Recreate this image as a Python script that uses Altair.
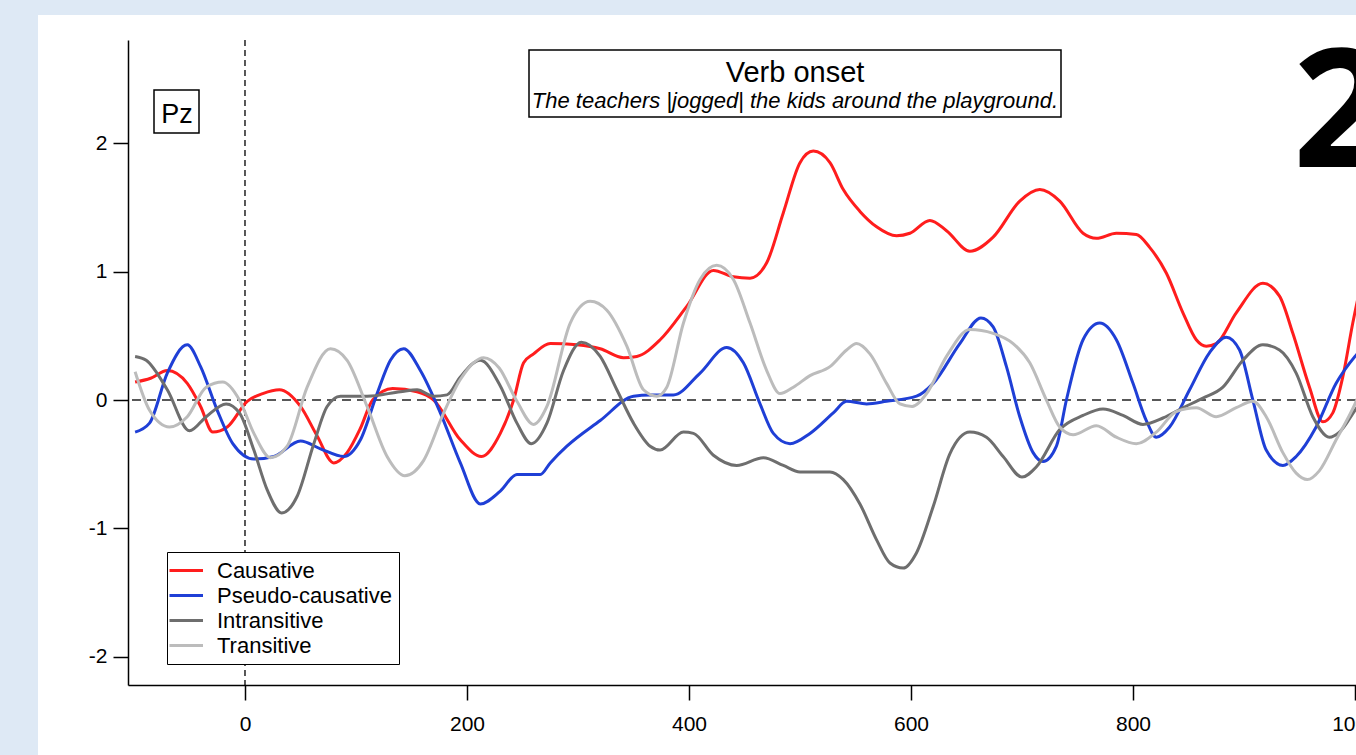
import altair as alt
import pandas as pd

SERIES = ["Causative", "Pseudo-causative", "Intransitive", "Transitive"]
COLORS = ["#ff1d1d", "#1f3fd6", "#6e6e6e", "#bcbcbc"]

X_TICKS = [0, 200, 400, 600, 800, 1000]
Y_TICKS = [-2, -1, 0, 1, 2]

caus_t = [-99, -85, -70, -52, -40, -29, -16, 2, 16, 31, 50, 65, 80, 92, 104, 115, 133, 155, 170,
          194, 213, 230, 242, 251, 260, 275, 299, 320, 341, 353, 374, 398, 422, 440, 455, 470, 485,
          500, 512, 527, 539, 554, 569, 587, 599, 617, 632, 653, 674, 698, 716, 734, 755, 767, 785,
          803, 815, 830, 845, 857, 866, 875, 893, 917, 932, 944, 959, 971, 980, 989, 998, 1004]
caus_v = [0.14, 0.17, 0.23, 0.13, -0.05, -0.25, -0.21, -0.01, 0.05, 0.08, -0.05, -0.28, -0.49, -0.41,
          -0.22, 0.0, 0.09, 0.065, 0.0, -0.31, -0.44, -0.26, 0.0, 0.29, 0.36, 0.44, 0.43, 0.40, 0.33,
          0.34, 0.47, 0.73, 1.01, 0.96, 0.95, 1.07, 1.46, 1.85, 1.94, 1.85, 1.64, 1.47, 1.35, 1.28,
          1.30, 1.40, 1.32, 1.16, 1.27, 1.55, 1.64, 1.55, 1.30, 1.26, 1.30, 1.29, 1.19, 0.99, 0.68,
          0.47, 0.42, 0.44, 0.68, 0.91, 0.81, 0.52, 0.10, -0.17, -0.10, 0.18, 0.60, 0.85]

pseudo_t = [-99, -86, -70, -52, -40, -25, -11, 8, 26, 50, 68, 89, 104, 119, 131, 143, 158, 176, 194,
            212, 230, 245, 266, 275, 290, 320, 350, 365, 386, 410, 434, 449, 464, 476, 491, 509, 530,
            542, 560, 578, 605, 620, 644, 663, 674, 686, 698, 710, 719, 731, 740, 755, 770, 785, 800,
            812, 821, 833, 851, 869, 884, 896, 908, 920, 935, 947, 965, 983, 1000, 1004]
pseudo_v = [-0.25, -0.18, 0.21, 0.43, 0.26, -0.08, -0.34, -0.46, -0.44, -0.32, -0.38, -0.44, -0.31,
            0.05, 0.31, 0.40, 0.23, -0.10, -0.49, -0.81, -0.71, -0.58, -0.58, -0.49, -0.36, -0.16,
            0.03, 0.04, 0.04, 0.21, 0.41, 0.29, -0.03, -0.26, -0.34, -0.26, -0.10, -0.01, -0.03,
            -0.01, 0.03, 0.13, 0.44, 0.64, 0.57, 0.26, -0.13, -0.41, -0.48, -0.36, 0.0, 0.47, 0.60,
            0.47, 0.13, -0.16, -0.29, -0.21, 0.08, 0.37, 0.49, 0.39, 0.0, -0.39, -0.51, -0.44, -0.21,
            0.13, 0.34, 0.38]

intr_t = [-99, -89, -70, -50, -35, -17, -5, 8, 20, 33, 47, 62, 74, 86, 110, 140, 155, 170, 182, 194,
          212, 230, 245, 258, 272, 287, 303, 320, 335, 350, 365, 374, 395, 404, 422, 443, 467, 485,
          500, 527, 539, 554, 569, 581, 593, 605, 620, 635, 653, 668, 683, 700, 713, 734, 755, 773,
          791, 809, 827, 845, 863, 881, 899, 917, 932, 947, 962, 977, 986, 1000, 1004]
intr_v = [0.34, 0.31, 0.08, -0.24, -0.13, -0.03, -0.10, -0.39, -0.70, -0.88, -0.75, -0.34, -0.05,
          0.03, 0.03, 0.065, 0.08, 0.03, 0.04, 0.18, 0.31, 0.11, -0.18, -0.34, -0.18, 0.23, 0.45,
          0.34, 0.08, -0.18, -0.36, -0.39, -0.25, -0.26, -0.43, -0.51, -0.45, -0.51, -0.56, -0.56,
          -0.62, -0.81, -1.09, -1.27, -1.31, -1.19, -0.83, -0.42, -0.25, -0.29, -0.44, -0.60, -0.52,
          -0.23, -0.12, -0.07, -0.12, -0.19, -0.14, -0.06, 0.015, 0.10, 0.31, 0.43, 0.39, 0.21,
          -0.13, -0.29, -0.25, -0.08, -0.03]

trans_t = [-99, -86, -68, -52, -35, -20, -5, 8, 23, 38, 56, 77, 92, 110, 128, 144, 161, 179, 194, 215,
           229, 245, 260, 272, 293, 311, 326, 344, 359, 371, 380, 395, 410, 425, 440, 455, 470, 482,
           494, 509, 527, 542, 551, 563, 578, 590, 601, 614, 632, 653, 674, 692, 707, 722, 734, 746,
           767, 785, 803, 821, 839, 857, 875, 893, 908, 920, 935, 947, 957, 968, 983, 1000, 1004]
trans_v = [0.22, -0.08, -0.21, -0.13, 0.10, 0.14, 0.0, -0.26, -0.45, -0.36, 0.10, 0.40, 0.31, -0.05,
           -0.44, -0.59, -0.47, -0.10, 0.16, 0.33, 0.25, -0.01, -0.19, -0.05, 0.60, 0.77, 0.70, 0.42,
           0.08, 0.03, 0.10, 0.60, 0.94, 1.05, 0.94, 0.60, 0.23, 0.05, 0.10, 0.19, 0.26, 0.39, 0.44,
           0.36, 0.13, -0.03, -0.05, 0.05, 0.34, 0.55, 0.52, 0.44, 0.29, 0.0, -0.21, -0.27, -0.20,
           -0.29, -0.34, -0.25, -0.09, -0.06, -0.13, -0.06, -0.01, -0.13, -0.41, -0.57, -0.62, -0.55,
           -0.31, -0.03, 0.05]

W, H = 1228, 645

rows = []
for name, ts, vs in zip(SERIES, [caus_t, pseudo_t, intr_t, trans_t],
                        [caus_v, pseudo_v, intr_v, trans_v]):
    for t, v in zip(ts, vs):
        rows.append({"t": t, "v": v, "series": name})
df = pd.DataFrame(rows)
one = pd.DataFrame({"a": [0]})

xscale = alt.Scale(domain=[-105.4, 1000.9], nice=False, zero=False)
yscale = alt.Scale(domain=[-2.221, 2.806], nice=False, zero=False)

axis_common = dict(title=None, grid=False, tickSize=15, tickWidth=1.5, tickColor="black",
                   domainColor="black", domainWidth=1.5, labelFontSize=21,
                   labelFont="Liberation Sans", labelColor="black", zindex=1,
                   labelFlush=False, labelOverlap=False, labelExpr="'' + datum.value")

bg = alt.Chart(one).mark_rect(fill="white").encode(
    x=alt.value(-90), x2=alt.value(W + 10), y=alt.value(-25), y2=alt.value(H + 80))

zero_h = alt.Chart(one).mark_rule(strokeDash=[9, 6], color="#222222", strokeWidth=1.5).encode(
    y=alt.datum(0, scale=yscale))
zero_v = alt.Chart(one).mark_rule(strokeDash=[6, 4], color="#222222", strokeWidth=1.5).encode(
    x=alt.datum(0, scale=xscale))

lines = alt.Chart(df).mark_line(strokeWidth=3, interpolate="monotone").encode(
    x=alt.X("t:Q", scale=xscale, axis=alt.Axis(values=X_TICKS, labelPadding=13, **axis_common)),
    y=alt.Y("v:Q", scale=yscale, axis=alt.Axis(values=Y_TICKS, labelPadding=6, **axis_common)),
    color=alt.Color("series:N", sort=SERIES,
                    scale=alt.Scale(domain=SERIES, range=COLORS),
                    legend=alt.Legend(title=None, orient="none", legendX=39, legendY=512,
                                      direction="vertical", symbolType="M-1.6,0H1.75",
                                      symbolSize=400, symbolStrokeWidth=3,
                                      labelFontSize=22, labelFont="Liberation Sans",
                                      labelColor="black", labelOffset=20, rowPadding=2,
                                      padding=7, strokeColor="black", fillColor="white",
                                      zindex=1, labelLimit=0)),
)

title_box = alt.Chart(one).mark_rect(fill="white", stroke="black", strokeWidth=1.5).encode(
    x=alt.value(401), x2=alt.value(933), y=alt.value(10), y2=alt.value(77))
title_txt = alt.Chart(one).mark_text(text="Verb onset", fontSize=29, font="Liberation Sans",
                                     align="center", baseline="alphabetic", color="black").encode(
    x=alt.value(667), y=alt.value(42))
sub_txt = alt.Chart(one).mark_text(text="The teachers |jogged| the kids around the playground.",
                                   fontSize=22, font="Liberation Sans", fontStyle="italic",
                                   align="center", baseline="alphabetic", color="black").encode(
    x=alt.value(667), y=alt.value(68))

pz_box = alt.Chart(one).mark_rect(fill="white", stroke="black", strokeWidth=1.5).encode(
    x=alt.value(26), x2=alt.value(71), y=alt.value(50), y2=alt.value(93))
pz_txt = alt.Chart(one).mark_text(text="Pz", fontSize=27, font="Liberation Sans",
                                  align="center", baseline="alphabetic", color="black").encode(
    x=alt.value(49), y=alt.value(83))

big2 = alt.Chart(one).mark_text(text="2", fontSize=166, font="Open Sans", fontWeight="bold",
                                align="left", baseline="alphabetic", color="black").encode(
    x=alt.value(1165), y=alt.value(127))

chart = alt.layer(bg, zero_h, zero_v, lines, title_box, title_txt, sub_txt, pz_box, pz_txt, big2
                  ).properties(
    width=W, height=H,
    padding={"left": 128, "top": 40, "right": 0, "bottom": 70},
    autosize=alt.AutoSizeParams(type="none"),
).configure(background="#dee9f5").configure_view(stroke=None)

chart.save("out.html", embed_options={"renderer": "svg", "actions": False})
